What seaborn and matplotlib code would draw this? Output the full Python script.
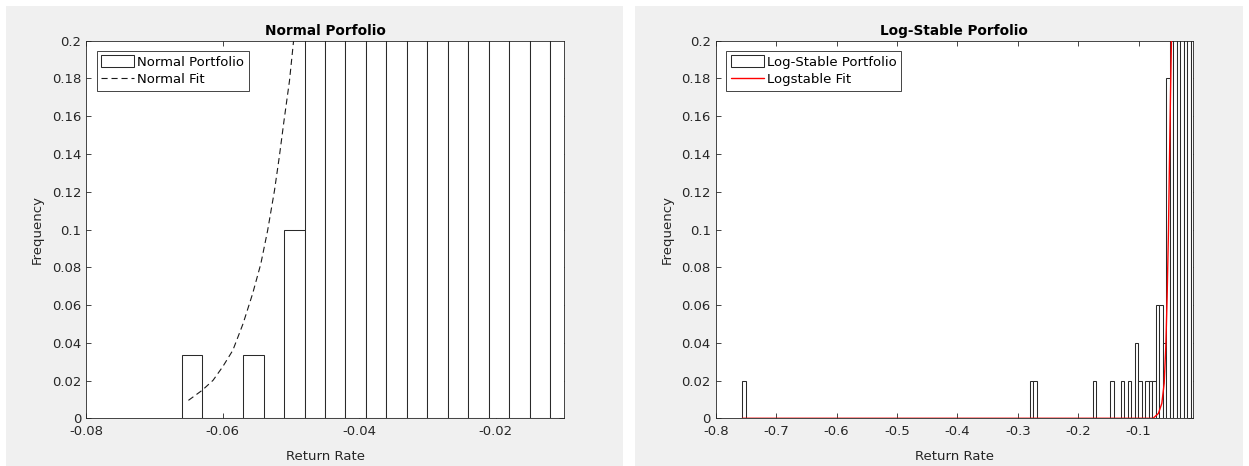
import numpy as np
import pandas as pd
import matplotlib
matplotlib.use("Agg")
import matplotlib.pyplot as plt
import seaborn as sns
from matplotlib.patches import Patch, Rectangle
from matplotlib.lines import Line2D
from matplotlib.ticker import FuncFormatter, MultipleLocator

# ---------------- data: Normal portfolio ----------------
normal_bin_start = -0.066
normal_bin_width = 0.003
# relative frequencies per bin (bins above 0.2 are clipped in the figure; estimated)
normal_heights = [0.0333, 0, 0, 0.0333, 0, 0.1,
                  0.24, 0.33, 0.47, 0.57, 0.70, 0.77, 0.83,
                  0.80, 0.73, 0.63, 0.50, 0.40, 0.30]
normal_fit_x = [-0.0650, -0.0630, -0.0614, -0.0600, -0.0585, -0.0570, -0.0556,
                -0.0544, -0.0534, -0.0524, -0.0517, -0.0510, -0.0502, -0.0496, -0.0490]
normal_fit_y = [0.0095, 0.0148, 0.0201, 0.0272, 0.0360, 0.0501, 0.0660,
                0.0818, 0.0995, 0.1206, 0.1383, 0.1577, 0.1788, 0.2000, 0.2250]

# ---------------- data: Log-stable portfolio ----------------
ls_bin_start = -0.756
ls_bin_width = 0.0058
ls_bin_count = 129
ls_bin_index = [0, 82, 83, 100, 105, 108, 110, 112, 113, 115, 116, 117,
                118, 119, 120, 121, 122, 123, 124, 125, 126, 127, 128]
ls_heights = [0.02, 0.02, 0.02, 0.02, 0.02, 0.02, 0.02, 0.04, 0.02, 0.02, 0.02, 0.02,
              0.06, 0.06, 0.04, 0.18, 0.26, 0.35, 0.45, 0.50, 0.45, 0.35, 0.30]
ls_fit_x = [-0.756, -0.076, -0.0672, -0.0616, -0.0577, -0.0550, -0.0528,
            -0.0506, -0.0490, -0.0473, -0.0457, -0.0445]
ls_fit_y = [0.0, 0.0, 0.0026, 0.0079, 0.0185, 0.0380, 0.0644,
            0.0997, 0.1350, 0.1700, 0.2000, 0.2300]

titles = ["Normal Porfolio", "Log-Stable Porfolio"]
legend_labels = [["Normal Portfolio", "Normal Fit"], ["Log-Stable Portfolio", "Logstable Fit"]]
xlims = [(-0.08, -0.01), (-0.8, -0.01)]
xtick_steps = [0.02, 0.1]

# ---------------- styling ----------------
sns.set_style("ticks")
plt.rcParams["font.family"] = ["DejaVu Sans"]
plt.rcParams["axes.unicode_minus"] = False
FS = 9.5
plt.rcParams["font.size"] = FS
TXT = "#262626"
EDGE = "#2a2a2a"

W, H = 1249, 466
fig = plt.figure(figsize=(W / 100, H / 100), dpi=100, facecolor="white")
for gx0, gx1 in [(6, 623), (635, 1243)]:
    fig.add_artist(Rectangle((gx0 / W, 0), (gx1 - gx0) / W, (H - 6) / H,
                             transform=fig.transFigure, facecolor="#f0f0f0",
                             edgecolor="none", zorder=-10))

ax_l = fig.add_axes([86 / W, (H - 418.3) / H, 478 / W, 377.6 / H])
ax_r = fig.add_axes([715.7 / W, (H - 418.3) / H, 477.3 / W, 377.6 / H])

# Normal histogram
n_edges = normal_bin_start + normal_bin_width * np.arange(len(normal_heights) + 1)
n_centers = (n_edges[:-1] + n_edges[1:]) / 2
df_n = pd.DataFrame({"x": n_centers, "w": normal_heights})
sns.histplot(data=df_n, x="x", weights="w", bins=[float(e) for e in n_edges], stat="count",
             color="white", edgecolor=EDGE, linewidth=0.75, alpha=1, ax=ax_l)
df_nf = pd.DataFrame({"x": normal_fit_x, "y": normal_fit_y})
sns.lineplot(data=df_nf, x="x", y="y", color="#1a1a1a", linewidth=0.8,
             linestyle=(0, (5.5, 3.5)), estimator=None, ax=ax_l)

# Log-stable histogram
ls_full = np.zeros(ls_bin_count)
ls_full[ls_bin_index] = ls_heights
l_edges = ls_bin_start + ls_bin_width * np.arange(ls_bin_count + 1)
l_centers = (l_edges[:-1] + l_edges[1:]) / 2
df_l = pd.DataFrame({"x": l_centers, "w": ls_full})
sns.histplot(data=df_l, x="x", weights="w", bins=[float(e) for e in l_edges], stat="count",
             color="white", edgecolor=EDGE, linewidth=0.75, alpha=1, ax=ax_r)
df_lf = pd.DataFrame({"x": ls_fit_x, "y": ls_fit_y})
sns.lineplot(data=df_lf, x="x", y="y", color="red", linewidth=1.0,
             estimator=None, ax=ax_r, zorder=5)

fmt = FuncFormatter(lambda v, _: "%g" % round(v, 6))
for i, ax in enumerate([ax_l, ax_r]):
    ax.set_facecolor("white")
    ax.set_xlim(*xlims[i])
    ax.set_ylim(0, 0.2)
    ax.xaxis.set_major_locator(MultipleLocator(xtick_steps[i]))
    ax.yaxis.set_major_locator(MultipleLocator(0.02))
    ax.xaxis.set_major_formatter(fmt)
    ax.yaxis.set_major_formatter(fmt)
    ax.tick_params(direction="in", length=3.4, width=0.6, color=TXT,
                   labelcolor=TXT, labelsize=FS, top=True, right=True, pad=3.5)
    ax.tick_params(axis="x", pad=5)
    for sp in ax.spines.values():
        sp.set_visible(True)
        sp.set_color(TXT)
        sp.set_linewidth(0.6)
    ax.set_title(titles[i], fontsize=9.8, fontweight="bold", color="black", pad=4)
    ax.set_xlabel("Return Rate", color=TXT, fontsize=FS)
    ax.set_ylabel("Frequency", color=TXT, fontsize=FS)
    ax.xaxis.set_label_coords(0.5, -0.085)
    ax.yaxis.set_label_coords(-0.088, 0.5)
    handles = [Patch(facecolor="white", edgecolor=EDGE, linewidth=0.75),
               Line2D([], [], color=("#1a1a1a" if i == 0 else "red"),
                      linewidth=(0.8 if i == 0 else 1.0),
                      linestyle=((0, (5.5, 3.5)) if i == 0 else "-"))]
    leg = ax.legend(handles, legend_labels[i], loc="upper left",
                    bbox_to_anchor=(0.022, 0.974), borderaxespad=0,
                    fancybox=False, framealpha=1, edgecolor=TXT,
                    handlelength=2.5, handleheight=1.0, handletextpad=0.25,
                    labelspacing=0.3, borderpad=0.35, fontsize=FS)
    leg.get_frame().set_linewidth(0.6)
    for t in leg.get_texts():
        t.set_color("black")

fig.savefig("out.png", dpi=100, facecolor=fig.get_facecolor())
